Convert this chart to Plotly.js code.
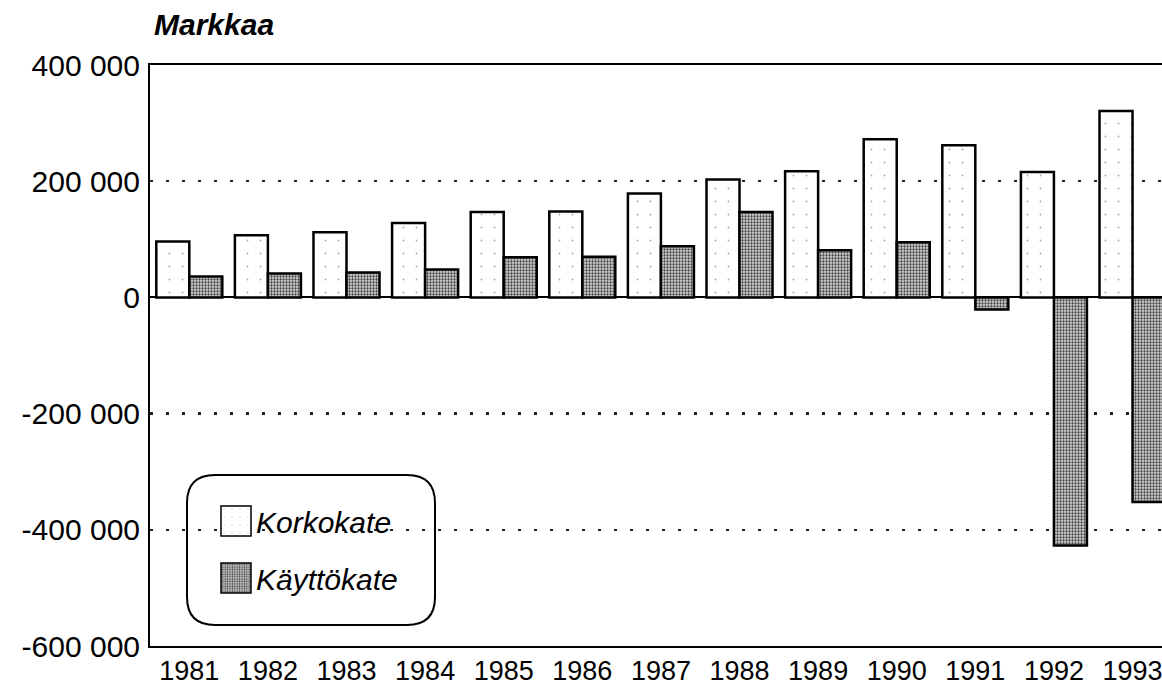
<!DOCTYPE html>
<html>
<head>
<meta charset="utf-8">
<script src="https://cdn.plot.ly/plotly-3.0.1.min.js"></script>
<style>html,body{margin:0;padding:0;background:#fff;}#chart{width:1162px;height:686px;}</style>
</head>
<body>
<div id="chart"></div>
<script>
const years = ['1981','1982','1983','1984','1985','1986','1987','1988','1989','1990','1991','1992','1993'];
const korkokate = [96000, 107000, 112000, 128000, 147000, 148000, 179000, 203000, 217000, 272000, 262000, 216000, 321000];
const kayttokate = [36000, 41000, 43000, 48000, 69000, 70000, 88000, 147000, 81000, 95000, -21000, -427000, -352000];
const yTickVals = [-600000, -400000, -200000, 0, 200000, 400000];
const yTickText = ['-600 000', '-400 000', '-200 000', '0', '200 000', '400 000'];
const seriesNames = ['Korkokate', 'Käyttökate'];

const FONT = 'Liberation Sans, Arial, Helvetica, sans-serif';
const W = 1162, H = 686, ML = 150, MR = 0, MT = 65, MB = 40;
const PW = W - ML - MR, PH = H - MT - MB;
function px(x) { return (x - ML) / PW; }
function py(y) { return (H - MB - y) / PH; }
function roundRect(x0, y0, x1, y1, r) {
  const P = (x, y) => px(x) + ',' + py(y);
  return 'M' + P(x0 + r, y0) + ' L' + P(x1 - r, y0) + ' Q' + P(x1, y0) + ' ' + P(x1, y0 + r) +
    ' L' + P(x1, y1 - r) + ' Q' + P(x1, y1) + ' ' + P(x1 - r, y1) +
    ' L' + P(x0 + r, y1) + ' Q' + P(x0, y1) + ' ' + P(x0, y1 - r) +
    ' L' + P(x0, y0 + r) + ' Q' + P(x0, y0) + ' ' + P(x0 + r, y0) + ' Z';
}

const traces = [
  {
    type: 'bar', name: seriesNames[0], x: years, y: korkokate, legendgroup: 'a',
    marker: {
      color: '#ffffff',
      line: {color: '#000', width: 2.5},
      pattern: {shape: '.', fgcolor: '#aaa', bgcolor: '#fff', size: 13, solidity: 0.015}
    },
    hoverinfo: 'x+y'
  },
  {
    type: 'bar', name: seriesNames[1], x: years, y: kayttokate, legendgroup: 'b',
    marker: {
      color: '#999',
      line: {color: '#000', width: 2.5},
      pattern: {shape: '.', fgcolor: '#444', bgcolor: '#d4d4d4', size: 3, solidity: 0.45}
    },
    hoverinfo: 'x+y'
  }
];

const layout = {
  width: W, height: H,
  margin: {l: ML, r: MR, t: MT, b: MB, pad: 0},
  paper_bgcolor: '#fff', plot_bgcolor: '#fff',
  font: {family: FONT, color: '#000'},
  barmode: 'group', bargap: 0.16, bargroupgap: 0,
  title: {
    text: '<b><i>Markkaa</i></b>',
    font: {family: FONT, size: 30, color: '#000'},
    xref: 'container', x: 154 / W, xanchor: 'left',
    yref: 'container', y: 1 - 24 / H, yanchor: 'middle'
  },
  xaxis: {
    type: 'category', range: [-0.5, 12.375],
    showline: true, linecolor: '#000', linewidth: 2, mirror: true,
    showgrid: false, zeroline: false, ticks: '',
    tickfont: {family: FONT, size: 27, color: '#000'},
    ticklabelstandoff: 0, fixedrange: true
  },
  yaxis: {
    range: [-600000, 400000],
    tickvals: yTickVals, ticktext: yTickText,
    showline: true, linecolor: '#000', linewidth: 2,
    showgrid: true, gridcolor: '#222', gridwidth: 2.5, griddash: '3px,13px',
    zeroline: true, zerolinecolor: '#000', zerolinewidth: 2,
    ticks: '', tickfont: {family: FONT, size: 30, color: '#000'},
    ticklabelstandoff: 2, fixedrange: true
  },
  showlegend: true,
  legend: {
    x: px(216), y: py(495), xanchor: 'left', yanchor: 'top',
    bgcolor: 'rgba(0,0,0,0)', borderwidth: 0,
    font: {family: FONT, size: 30, color: '#000', style: 'italic'},
    traceorder: 'grouped', tracegroupgap: 15
  },
  shapes: [
    {type: 'path', xref: 'paper', yref: 'paper', path: roundRect(187, 475, 435, 625, 28),
     line: {color: '#000', width: 2}, fillcolor: 'rgba(0,0,0,0)', layer: 'above'}
  ]
};

Plotly.newPlot('chart', traces, layout, {displayModeBar: false, staticPlot: true}).then(function () {
  document.querySelectorAll('.legend .legendpoints path').forEach(function (p) {
    p.setAttribute('d', 'M15,15H-15V-15H15Z');
    p.style.strokeWidth = '1.5px';
  });
});
</script>
</body>
</html>
